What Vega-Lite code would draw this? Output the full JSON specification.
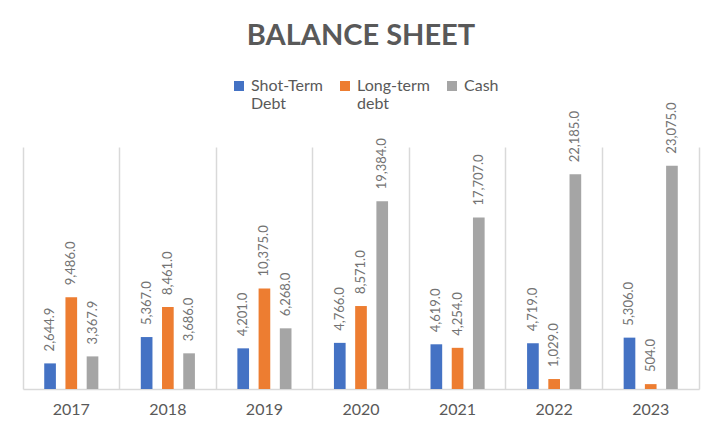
{
  "$schema": "https://vega.github.io/schema/vega-lite/v6.json",
  "width": 676,
  "height": 242,
  "autosize": "none",
  "padding": {"left": 23, "top": 147, "right": 23, "bottom": 45},
  "background": "white",
  "title": {"text": "BALANCE SHEET", "anchor": "middle", "font": "Lato", "fontSize": 29, "fontWeight": "bold", "color": "#595959", "offset": 4, "baseline": "alphabetic"},
  "config": {"view": {"stroke": null}, "font": "Lato"},
  "data": {"values": [
    {"year": "2017", "series": "Shot-Term Debt", "value": 2644.9},
    {"year": "2017", "series": "Long-term debt", "value": 9486},
    {"year": "2017", "series": "Cash", "value": 3367.9},
    {"year": "2018", "series": "Shot-Term Debt", "value": 5367},
    {"year": "2018", "series": "Long-term debt", "value": 8461},
    {"year": "2018", "series": "Cash", "value": 3686},
    {"year": "2019", "series": "Shot-Term Debt", "value": 4201},
    {"year": "2019", "series": "Long-term debt", "value": 10375},
    {"year": "2019", "series": "Cash", "value": 6268},
    {"year": "2020", "series": "Shot-Term Debt", "value": 4766},
    {"year": "2020", "series": "Long-term debt", "value": 8571},
    {"year": "2020", "series": "Cash", "value": 19384},
    {"year": "2021", "series": "Shot-Term Debt", "value": 4619},
    {"year": "2021", "series": "Long-term debt", "value": 4254},
    {"year": "2021", "series": "Cash", "value": 17707},
    {"year": "2022", "series": "Shot-Term Debt", "value": 4719},
    {"year": "2022", "series": "Long-term debt", "value": 1029},
    {"year": "2022", "series": "Cash", "value": 22185},
    {"year": "2023", "series": "Shot-Term Debt", "value": 5306},
    {"year": "2023", "series": "Long-term debt", "value": 504},
    {"year": "2023", "series": "Cash", "value": 23075}
  ]},
  "encoding": {
    "x": {"field": "year", "type": "nominal", "scale": {"paddingInner": 0, "paddingOuter": 0},
      "axis": {"title": null, "labelAngle": 0, "ticks": false, "grid": true, "bandPosition": 0, "gridColor": "#d9d9d9", "gridWidth": 1.5, "domainColor": "#d9d9d9", "domainWidth": 1.5, "labelFont": "Lato", "labelFontSize": 16, "labelColor": "#595959", "labelPadding": 12}},
    "xOffset": {"field": "series", "type": "nominal", "sort": ["Shot-Term Debt", "Long-term debt", "Cash"], "scale": {"paddingInner": 0.45, "paddingOuter": 1.14}},
    "y": {"field": "value", "type": "quantitative", "scale": {"domain": [0, 25000], "nice": false},
      "axis": {"title": null, "orient": "right", "labels": false, "ticks": false, "grid": false, "domain": true, "domainColor": "#d9d9d9", "domainWidth": 1.5}}
  },
  "layer": [
    {
      "mark": {"type": "bar"},
      "encoding": {
        "color": {"field": "series", "type": "nominal",
          "scale": {"domain": ["Shot-Term Debt", "Long-term debt", "Cash"], "range": ["#4472c4", "#ed7d31", "#a5a5a5"]},
          "legend": {"title": null, "orient": "none", "legendX": 208, "legendY": -69, "direction": "horizontal", "symbolType": "square", "symbolSize": 100, "symbolStrokeWidth": 0, "labelFont": "Lato", "labelFontSize": 16, "labelColor": "#595959", "labelOffset": 4, "labelLimit": 300, "columnPadding": 13,
            "labelExpr": "datum.label == 'Shot-Term Debt' ? ['Shot-Term', 'Debt'] : datum.label == 'Long-term debt' ? ['Long-term', 'debt'] : ['Cash', '']"}
        }
      }
    },
    {
      "mark": {"type": "text", "angle": -90, "align": "left", "baseline": "middle", "dx": 12, "font": "Lato", "fontSize": 13, "color": "#737373"},
      "encoding": {
        "text": {"field": "value", "type": "quantitative", "format": ",.1f"}
      }
    }
  ]
}
